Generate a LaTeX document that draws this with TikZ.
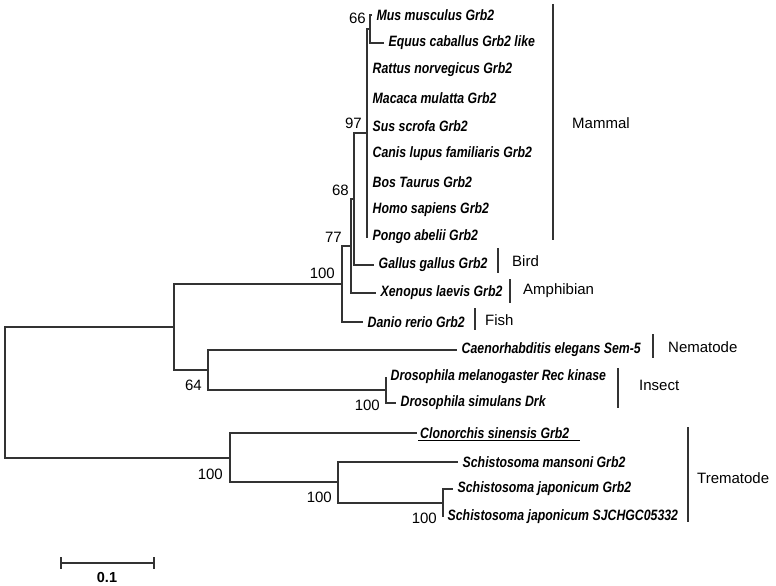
\documentclass[tikz,border=0pt]{standalone}
\usepackage{fontspec}
\setmainfont{Liberation Sans}
\newfontfamily\leaffont[FakeStretch=0.82]{Liberation Sans}

\tikzset{
  branch/.style={line width=1.1pt, draw=black!80},
  leaf/.style={anchor=west, inner xsep=4.5pt, inner ysep=0pt,
    font=\leaffont\fontsize{15}{17}\selectfont\bfseries\itshape},
  boot/.style={anchor=east, inner sep=0pt, font=\fontsize{15}{17}\selectfont},
  clade/.style={anchor=west, inner sep=0pt, font=\fontsize{15}{17}\selectfont},
}

\begin{document}
\begin{tikzpicture}[x=1pt, y=-1pt]
  \useasboundingbox (0,0) rectangle (776,586);

  % inner nodes of the tree
  \coordinate (root) at (5,392);
  \coordinate (nup) at (174,327);
  \coordinate (nvert) at (342,284);
  \coordinate (n77) at (351,246);
  \coordinate (n68) at (354,199);
  \coordinate (nmam) at (367,133);
  \coordinate (n66) at (370,29);
  \coordinate (n64) at (208,370);
  \coordinate (ndro) at (386,390);
  \coordinate (ntre) at (230,458);
  \coordinate (nsch) at (338,482);
  \coordinate (nsja) at (443,503);

  % leaves
  \node[leaf] (mus) at (372,15) {Mus musculus Grb2};
  \node[leaf] (equ) at (384,43) {Equus caballus Grb2 like};
  \foreach \n/\y/\t in {rat/70/Rattus norvegicus Grb2, mac/98/Macaca mulatta Grb2,
      sus/126/Sus scrofa Grb2, can/154/Canis lupus familiaris Grb2,
      bos/182/Bos Taurus Grb2, hom/210/Homo sapiens Grb2, pon/237/Pongo abelii Grb2}
    \node[leaf] (\n) at (368,\y) {\t};
  \node[leaf] (gal) at (374,265) {Gallus gallus Grb2};
  \node[leaf] (xen) at (376,293) {Xenopus laevis Grb2};
  \node[leaf] (dan) at (363,322) {Danio rerio Grb2};
  \node[leaf] (cae) at (457,350) {Caenorhabditis elegans Sem-5};
  \node[leaf] (dme) at (386,377) {Drosophila melanogaster Rec kinase};
  \node[leaf] (dsi) at (396,403) {Drosophila simulans Drk};
  \node[leaf, inner xsep=3pt] (clo) at (417,433) {Clonorchis sinensis Grb2};
  \node[leaf] (sma) at (458,462) {Schistosoma mansoni Grb2};
  \node[leaf] (sjg) at (453,489) {Schistosoma japonicum Grb2};
  \node[leaf] (sjc) at (443,517) {Schistosoma japonicum SJCHGC05332};

  % branches
  \draw[branch] (root) |- (nup);
  \draw[branch] (root) |- (ntre);
  \draw[branch] (nup) |- (nvert);
  \draw[branch] (nup) |- (n64);
  \draw[branch] (nvert) |- (n77);
  \draw[branch] (nvert) |- (dan.west);
  \draw[branch] (n77) |- (n68);
  \draw[branch] (n77) |- (xen.west);
  \draw[branch] (n68) |- (nmam);
  \draw[branch] (n68) |- (gal.west);
  \draw[branch] (nmam) |- (n66);
  \foreach \n in {rat,mac,sus,can,bos,hom,pon}
    \draw[branch] (nmam) |- (\n.west);
  \draw[branch] (n66) |- (mus.west);
  \draw[branch] (n66) |- (equ.west);
  \draw[branch] (n64) |- (cae.west);
  \draw[branch] (n64) |- (ndro);
  \draw[branch] (ndro) |- (dme.west);
  \draw[branch] (ndro) |- (dsi.west);
  \draw[branch] (ntre) |- (clo.west);
  \draw[branch] (ntre) |- (nsch);
  \draw[branch] (nsch) |- (sma.west);
  \draw[branch] (nsch) |- (nsja);
  \draw[branch] (nsja) |- (sjg.west);
  \draw[branch] (nsja) |- (sjc.west);
  % underline
  \draw[line width=0.9pt] (418,440) -- (580,440);

  % bootstrap values
  \node[boot] (b66) at (366,18) {66};
  \node[boot] (b97) at (362,123) {97};
  \node[boot] (b68) at (349,190) {68};
  \node[boot] (b77) at (342,237) {77};
  \node[boot] (b100a) at (335,273) {100};
  \node[boot] (b64) at (202,385) {64};
  \node[boot] (b100b) at (380,405) {100};
  \node[boot] (b100c) at (223,474) {100};
  \node[boot] (b100d) at (332,497) {100};
  \node[boot] (b100e) at (437,518) {100};

  % clade bars
  \draw[branch] (553,4) -- (553,240);
  \node[clade] (mammal) at (572,123) {Mammal};
  \draw[branch] (498,248) -- (498,273);
  \node[clade] (bird) at (512,261) {Bird};
  \draw[branch] (510,279) -- (510,303);
  \node[clade] (amph) at (523,291) {Amphibian};
  \draw[branch] (475,308) -- (475,330);
  \node[clade] (fish) at (485,320) {Fish};
  \draw[branch] (653,334) -- (653,358);
  \node[clade] (nema) at (668,347) {Nematode};
  \draw[branch] (618,368) -- (618,408);
  \node[clade] (insect) at (639,385) {Insect};
  \draw[branch] (688,427) -- (688,522);
  \node[clade] (trema) at (697,478) {Trematode};

  % scale bar
  \draw[branch] (61,563) -- (154,563);
  \draw[branch] (61,557) -- (61,569);
  \draw[branch] (154,557) -- (154,569);
  \node[font=\fontsize{14.5}{16}\selectfont\bfseries] (scale) at (107,578) {0.1};
\end{tikzpicture}
\end{document}
